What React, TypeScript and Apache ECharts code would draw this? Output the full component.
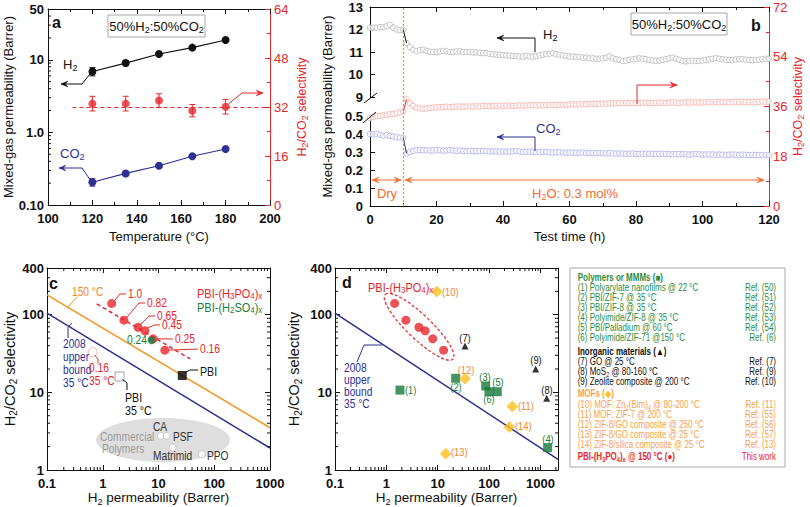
import React, { useEffect, useRef } from 'react';
import * as echarts from 'echarts';

const FONT = "'Liberation Sans', Arial, Helvetica, sans-serif";
const BLACK = '#111111';
const RED = '#e8262b';
const BLUE = '#2e3192';
const GREEN = '#1a7d3c';
const ORANGE = '#f7941d';
const ORANGE_T = '#f0882e';
const GOLD = '#fdc01c';
const DRY = '#f26b2e';
const MOFT = '#f4a34c';
const LGREEN = '#2e8b3e';

// ---------------- Panel a ----------------
const tempA = [120, 135, 150, 165, 180];
const h2PermA = [6.9, 9.0, 12.0, 14.7, 18.7];
const h2ErrA = [0.9, 0.7, 0.5, 0.5, 0.5];
const co2PermA = [0.206, 0.272, 0.347, 0.469, 0.59];
const co2ErrA = [0.024, 0.018, 0.012, 0.012, 0.012];
const selA = [33.1, 33.1, 34.1, 30.8, 32.1];
const selErrA = [2.4, 2.4, 2.2, 2.0, 2.4];
const selMeanA = 32;
const selMeanStartA = 111;

// ---------------- Panel b ----------------
const timeB = Array.from({ length: 121 }, (_, i) => i);
const h2PermB = [
  12.08, 12.08, 12.08, 12.1, 12.1, 12.15, 12.2, 12.08, 12.0, 11.97, 11.98,
  11.4, 11.22, 11.1, 11.05, 11.08, 11.1, 11.05, 11.02, 11.0, 11.0,
  11.02, 11.05, 11.03, 11.0, 11.0, 11.02, 11.03, 11.0, 11.0, 11.0,
  10.98, 10.98, 10.97, 10.95, 10.95, 10.92, 10.9, 10.88, 10.88, 10.86,
  10.85, 10.84, 10.82, 10.82, 10.8, 10.8, 10.82, 10.8, 10.8, 10.82,
  10.85, 10.88, 10.9, 10.92, 10.95, 10.9, 10.88, 10.85, 10.82, 10.8,
  10.8, 10.78, 10.78, 10.75, 10.75, 10.72, 10.72, 10.7, 10.7, 10.72,
  10.75, 10.8, 10.72, 10.68, 10.65, 10.6, 10.62, 10.65, 10.68, 10.7,
  10.72, 10.7, 10.68, 10.65, 10.62, 10.6, 10.62, 10.65, 10.68, 10.72,
  10.75, 10.7, 10.65, 10.6, 10.58, 10.6, 10.62, 10.6, 10.6, 10.62,
  10.65, 10.68, 10.7, 10.72, 10.7, 10.68, 10.66, 10.65, 10.65, 10.66,
  10.68, 10.68, 10.66, 10.65, 10.64, 10.65, 10.66, 10.68, 10.7, 10.7,
];
const co2PermB = [
  0.4, 0.398, 0.4, 0.396, 0.39, 0.394, 0.39, 0.386, 0.382, 0.38, 0.378,
  0.292, 0.3, 0.306, 0.31, 0.312, 0.31, 0.31, 0.308, 0.309, 0.31,
  0.31, 0.308, 0.309, 0.31, 0.308, 0.307, 0.308, 0.306, 0.305, 0.306,
  0.305, 0.304, 0.305, 0.306, 0.304, 0.303, 0.304, 0.303, 0.302, 0.303,
  0.302, 0.303, 0.304, 0.305, 0.302, 0.3, 0.301, 0.302, 0.3, 0.299,
  0.3, 0.301, 0.3, 0.298, 0.297, 0.298, 0.299, 0.297, 0.296, 0.297,
  0.296, 0.295, 0.296, 0.297, 0.295, 0.294, 0.293, 0.294, 0.295, 0.293,
  0.292, 0.293, 0.292, 0.291, 0.292, 0.291, 0.29, 0.291, 0.292, 0.29,
  0.289, 0.29, 0.291, 0.29, 0.289, 0.288, 0.289, 0.29, 0.289, 0.288,
  0.287, 0.288, 0.289, 0.288, 0.287, 0.286, 0.287, 0.288, 0.287, 0.286,
  0.286, 0.287, 0.286, 0.285, 0.286, 0.285, 0.284, 0.285, 0.286, 0.285,
  0.284, 0.285, 0.284, 0.283, 0.284, 0.283, 0.282, 0.283, 0.282, 0.282,
];
const selB = [
  31.8, 32.2, 32.5, 32.6, 32.8, 33.0, 33.2, 33.3, 33.6, 33.8, 34.2,
  38.6, 37.2, 36.2, 35.6, 35.3, 35.2, 35.3, 35.5, 35.6, 35.7,
  35.8, 35.8, 35.9, 35.8, 35.9, 36.0, 36.0, 35.9, 36.0, 36.0,
  36.0, 36.1, 36.0, 36.1, 36.2, 36.1, 36.2, 36.2, 36.3, 36.2,
  36.3, 36.3, 36.2, 36.3, 36.4, 36.3, 36.4, 36.4, 36.5, 36.4,
  36.5, 36.4, 36.5, 36.6, 36.5, 36.6, 36.6, 36.7, 36.6, 36.7,
  36.8, 36.7, 36.8, 36.9, 36.8, 36.9, 37.0, 36.9, 37.0, 37.1,
  37.0, 37.1, 37.2, 37.1, 37.2, 37.2, 37.3, 37.2, 37.3, 37.3,
  37.2, 37.3, 37.4, 37.3, 37.2, 37.3, 37.4, 37.4, 37.3, 37.4,
  37.5, 37.4, 37.3, 37.4, 37.5, 37.4, 37.5, 37.5, 37.4, 37.5,
  37.5, 37.6, 37.5, 37.6, 37.5, 37.6, 37.6, 37.5, 37.6, 37.7,
  37.6, 37.7, 37.6, 37.7, 37.7, 37.6, 37.7, 37.8, 37.7, 37.8,
];
const dryEndB = 10;

// ---------------- Panel c ----------------
const pbiPaX = [1.45, 2.4, 4.3, 5.7, 8.0, 13];
const pbiPaY = [140, 85, 69, 62, 49, 35];
const pbiPaLabels = ['1.0', '0.82', '0.65', '0.45', '0.25', '0.16'];
const pbiSaX = [7.5];
const pbiSaY = [47];
const pbi150X = [26.7];
const pbi150Y = [16.5];
const pbi35X = [2.0];
const pbi35Y = [16];
const pbiPa35X = [0.66];
const pbiPa35Y = [33];
const commercialNames = ['CA', 'PSF', 'Matrimid', 'PPO'];
const commercialX = [11, 14, 18, 60];
const commercialY = [2.75, 2.75, 1.95, 1.6];
const boundCX = [0.1, 1000];
const boundCY = [105, 1.92];
const bound150X = [0.1, 1000];
const bound150Y = [180, 3.5];
const trendPaX = [0.78, 37];
const trendPaY = [138, 27];

// ---------------- Panel d ----------------
const polymersX = [1.84, 22.4, 86, 1384, 144.5, 99.6];
const polymersY = [10.7, 15.2, 12.1, 1.94, 10.2, 10.2];
const inorganicX = [34, 1324, 809];
const inorganicY = [39.5, 8.4, 20];
const mofX = [9.55, 283, 34, 14.3, 248];
const mofY = [199, 6.6, 15.0, 1.62, 3.58];
const boundDX = [0.1, 2200];
const boundDY = [105, 1.37];
const dMaxX = 2200;

// ---------------- helpers ----------------
function richStr(s: string) {
  return s
    .split('#')
    .map((seg, k) => {
      if (k % 2 === 1) return seg ? `{i|${seg}}` : '';
      return seg
        .split('~')
        .map((p, i) => (p === '' ? '' : i % 2 ? `{s|${p}}` : `{n|${p}}`))
        .join('');
    })
    .join('');
}
function nameRich(color: string, size: number) {
  return {
    n: { fontSize: size, fontFamily: FONT, color, lineHeight: size + 3 },
    s: { fontSize: Math.round(size * 0.7), fontFamily: FONT, color, lineHeight: Math.round(size * 0.55), verticalAlign: 'bottom' },
  };
}
function axisBase(color = BLACK) {
  return {
    axisLine: { show: true, onZero: false, lineStyle: { color, width: 1 } },
    axisTick: { show: true, inside: true, length: 5, lineStyle: { color, width: 1 } },
    splitLine: { show: false },
  };
}
function lbl(color = BLACK, margin = 5, extra: any = {}) {
  return { show: true, color, fontSize: 13, fontWeight: 'bold', fontFamily: FONT, margin, ...extra };
}
const isPow10 = (v: number) => {
  const l = Math.log10(v);
  return Math.abs(l - Math.round(l)) < 1e-6;
};
const fmtPow = (v: number) => (isPow10(v) ? String(+Number(v).toPrecision(6)) : '');
const fmtA = (v: number) => {
  const m: [number, string][] = [[0.1, '0.10'], [1, '1.0'], [10, '10'], [50, '50']];
  for (const [k, s] of m) if (Math.abs(v / k - 1) < 1e-6) return s;
  return '';
};
const fmtSel = (v: number) => (isPow10(v) ? String(Math.round(v)) : Math.abs(v - 400) < 1e-6 ? '400' : '');

function logMinor(lo: number, hi: number) {
  const out: number[] = [];
  for (let e = Math.floor(Math.log10(lo)); e <= Math.ceil(Math.log10(hi)); e++) {
    for (let m = 2; m <= 9; m++) {
      const v = m * Math.pow(10, e);
      if (v > lo * 1.0001 && v < hi * 0.9999) out.push(v);
    }
  }
  return out;
}
function minorTickSeries(xi: number, yi: number, xr: number[], yr: number[], xm: number[], ym: number[], o: any) {
  return {
    type: 'custom', xAxisIndex: xi, yAxisIndex: yi, silent: true, z: 5,
    data: [[xr[0], yr[0]]],
    renderItem: (_p: any, api: any) => {
      const ch: any[] = [];
      const st = { stroke: o.color || BLACK, lineWidth: 1 };
      const L = 3;
      for (const v of xm) {
        const b = api.coord([v, yr[0]]);
        const t = api.coord([v, yr[1]]);
        if (o.bottom) ch.push({ type: 'line', shape: { x1: b[0], y1: b[1], x2: b[0], y2: b[1] - L }, style: st });
        if (o.top) ch.push({ type: 'line', shape: { x1: t[0], y1: t[1], x2: t[0], y2: t[1] + L }, style: st });
      }
      for (const v of ym) {
        const l = api.coord([xr[0], v]);
        const r = api.coord([xr[1], v]);
        if (o.left) ch.push({ type: 'line', shape: { x1: l[0], y1: l[1], x2: l[0] + L, y2: l[1] }, style: st });
        if (o.right) ch.push({ type: 'line', shape: { x1: r[0], y1: r[1], x2: r[0] - L, y2: r[1] }, style: st });
      }
      return { type: 'group', children: ch };
    },
  };
}
function errSeries(xi: number, yi: number, xs: number[], ys: number[], es: number[], color: string) {
  return {
    type: 'custom', xAxisIndex: xi, yAxisIndex: yi, z: 3, silent: true,
    data: xs.map((x, i) => [x, ys[i] - es[i], ys[i] + es[i]]),
    encode: { x: 0, y: [1, 2] },
    renderItem: (_p: any, api: any) => {
      const x = api.value(0);
      const a = api.coord([x, api.value(1)]);
      const b = api.coord([x, api.value(2)]);
      const w = 3;
      const st = { stroke: color, lineWidth: 1 };
      return {
        type: 'group',
        children: [
          { type: 'line', shape: { x1: a[0], y1: a[1], x2: b[0], y2: b[1] }, style: st },
          { type: 'line', shape: { x1: a[0] - w, y1: a[1], x2: a[0] + w, y2: a[1] }, style: st },
          { type: 'line', shape: { x1: b[0] - w, y1: b[1], x2: b[0] + w, y2: b[1] }, style: st },
        ],
      };
    },
  };
}
function T(x: number, y: number, text: string, o: any = {}) {
  const size = o.size ?? 12;
  const color = o.color ?? BLACK;
  const weight = o.bold ? 'bold' : 'normal';
  const ic = o.iconColor ?? color;
  const rich = {
    n: { fontSize: size, fontFamily: FONT, fontWeight: weight, fill: color, color, lineHeight: size + 3 },
    s: { fontSize: Math.round(size * 0.68), fontFamily: FONT, fontWeight: weight, fill: color, color, lineHeight: Math.round(size * 0.55), verticalAlign: 'bottom' },
    i: { fontSize: size, fontFamily: FONT, fill: ic, color: ic, lineHeight: size + 3 },
  };
  return {
    type: 'text', x, y, z: 60, silent: true, scaleX: o.sx ?? 1,
    style: {
      text: richStr(text), rich, fontSize: size, fontFamily: FONT, fontWeight: weight, fill: color,
      align: o.align ?? 'left', verticalAlign: 'middle', textAlign: o.align ?? 'left', textVerticalAlign: 'middle',
    },
  };
}
function PL(pts: number[][], color: string, w = 1, dash?: number[]) {
  return { type: 'polyline', z: 55, silent: true, shape: { points: pts }, style: { stroke: color, fill: 'none', lineWidth: w, lineDash: dash } };
}
function arrow(pts: number[][], color: string, both = false, w = 1) {
  const els: any[] = [PL(pts, color, w)];
  const head = (tip: number[], from: number[]) => {
    const dx = tip[0] - from[0];
    const dy = tip[1] - from[1];
    const L = Math.hypot(dx, dy) || 1;
    const ux = dx / L;
    const uy = dy / L;
    const hl = 7;
    const hw = 3;
    const bx = tip[0] - ux * hl;
    const by = tip[1] - uy * hl;
    const nx = tip[0] - ux * hl * 0.6;
    const ny = tip[1] - uy * hl * 0.6;
    return {
      type: 'polygon', z: 56, silent: true,
      shape: { points: [tip, [bx - uy * hw, by + ux * hw], [nx, ny], [bx + uy * hw, by - ux * hw]] },
      style: { fill: color, stroke: color, lineWidth: 0.5 },
    };
  };
  els.push(head(pts[pts.length - 1], pts[pts.length - 2]));
  if (both) els.push(head(pts[0], pts[1]));
  return els;
}
function box(x: number, y: number, w: number, h: number) {
  return { type: 'rect', z: 50, silent: true, shape: { x, y, width: w, height: h }, style: { fill: '#fff', stroke: '#a8a8a8', lineWidth: 1 } };
}

const legendRows = [
  { t: 'Polymers or MMMs (#■#)', c: LGREEN, b: true },
  { t: '(1) Polyarylate nanofilms @ 22 °C', r: 'Ref. (50)', c: LGREEN },
  { t: '(2) PBI/ZIF-7 @ 35 °C', r: 'Ref. (51)', c: LGREEN },
  { t: '(3) PBI/ZIF-8 @ 35 °C', r: 'Ref. (52)', c: LGREEN },
  { t: '(4) Polyimide/ZIF-8 @ 35 °C', r: 'Ref. (53)', c: LGREEN },
  { t: '(5) PBI/Palladium @ 60 °C', r: 'Ref. (54)', c: LGREEN },
  { t: '(6) Polyimide/ZIF-71 @150 °C', r: 'Ref. (6)', c: LGREEN },
  { t: 'Inorganic materials (#▲#)', c: BLACK, b: true },
  { t: '(7) GO @ 25 °C', r: 'Ref. (7)', c: BLACK },
  { t: '(8) MoS~2~ @ 80-160 °C', r: 'Ref. (9)', c: BLACK },
  { t: '(9) Zeolite composite @ 200 °C', r: 'Ref. (10)', c: BLACK },
  { t: 'MOFs (#◆#)', c: MOFT, b: true, ic: GOLD },
  { t: '(10) MOF: Zn~2~(Bim)~4~ @ 80-200 °C', r: 'Ref. (11)', c: MOFT },
  { t: '(11) MOF: ZIF-7 @ 200 °C', r: 'Ref. (55)', c: MOFT },
  { t: '(12) ZIF-8/GO composite @ 250 °C', r: 'Ref. (56)', c: MOFT },
  { t: '(13) ZIF-8/GO composite @ 25 °C', r: 'Ref. (57)', c: MOFT },
  { t: '(14) ZIF-8/silica composite @ 25 °C', r: 'Ref. (13)', c: MOFT },
  { t: 'PBI-(H~3~PO~4~)~x~ @ 150 °C (#●#)', r: 'This work', c: RED, b: true },
];
const legendY = [277.7, 287.7, 297.7, 307.7, 317.7, 327.7, 337.7, 351.7, 361.7, 371.7, 381.7, 393.3, 404.3, 414.3, 424.3, 434.3, 444.3, 456.7];

function buildOption() {
  const grids = [
    { left: 48, top: 9, width: 222, height: 196 },
    { left: 370, top: 7, width: 399, height: 90 },
    { left: 370, top: 116, width: 399, height: 90 },
    { left: 370, top: 7, width: 399, height: 199 },
    { left: 47, top: 268, width: 223, height: 202 },
    { left: 335, top: 268, width: 223, height: 202 },
  ].map((g) => ({ ...g, containLabel: false, outerBoundsMode: 'none', show: false }));

  const minorLin = { show: true, splitNumber: 2, length: 3, lineStyle: { color: BLACK, width: 1 } };

  const xAxis: any[] = [
    { ...axisBase(), gridIndex: 0, type: 'value', min: 100, max: 200, interval: 20, minorTick: minorLin, axisLabel: lbl(BLACK, 7),
      name: 'Temperature (°C)', nameLocation: 'middle', nameGap: 25, nameTextStyle: { fontSize: 13, fontFamily: FONT, color: BLACK } },
    { ...axisBase(), gridIndex: 0, type: 'value', position: 'top', min: 100, max: 200, interval: 20, minorTick: minorLin, axisLabel: { show: false } },
    { ...axisBase(), gridIndex: 1, type: 'value', position: 'top', min: 0, max: 120, interval: 20, minorTick: minorLin, axisLabel: { show: false } },
    { ...axisBase(), gridIndex: 2, type: 'value', min: 0, max: 120, interval: 20, minorTick: minorLin, axisLabel: lbl(BLACK, 7),
      name: 'Test time (h)', nameLocation: 'middle', nameGap: 24, nameTextStyle: { fontSize: 13, fontFamily: FONT, color: BLACK } },
    { gridIndex: 3, type: 'value', min: 0, max: 120, show: false },
    { ...axisBase(), gridIndex: 4, type: 'log', min: 0.1, max: 1000, axisLabel: lbl(BLACK, 7, { formatter: fmtPow }),
      name: richStr('H~2~ permeability (Barrer)'), nameLocation: 'middle', nameGap: 19, nameTextStyle: { rich: nameRich(BLACK, 13.5) } },
    { ...axisBase(), gridIndex: 4, type: 'log', position: 'top', min: 0.1, max: 1000, axisLabel: { show: false } },
    { ...axisBase(), gridIndex: 5, type: 'log', min: 0.1, max: dMaxX, axisLabel: lbl(BLACK, 7, { formatter: fmtPow }),
      name: richStr('H~2~ permeability (Barrer)'), nameLocation: 'middle', nameGap: 19, nameTextStyle: { rich: nameRich(BLACK, 13.5) } },
    { ...axisBase(), gridIndex: 5, type: 'log', position: 'top', min: 0.1, max: dMaxX, axisLabel: { show: false } },
  ];

  const yAxis: any[] = [
    { ...axisBase(), gridIndex: 0, type: 'log', min: 0.1, max: 50, axisLabel: lbl(BLACK, 4, { formatter: fmtA }),
      name: 'Mixed-gas permeability (Barrer)', nameLocation: 'middle', nameGap: 29, nameTextStyle: { fontSize: 13, fontFamily: FONT, color: BLACK } },
    { ...axisBase(RED), gridIndex: 0, type: 'value', position: 'right', min: 0, max: 64, interval: 16,
      minorTick: { ...minorLin, lineStyle: { color: RED } }, axisLabel: lbl(RED, 4, { fontWeight: 'normal' }),
      name: richStr('H~2~/CO~2~ selectivity'), nameLocation: 'middle', nameGap: 24, nameTextStyle: { rich: nameRich(RED, 12.5) } },
    { ...axisBase(), gridIndex: 1, type: 'value', min: 9, max: 13, interval: 1, axisLabel: lbl(BLACK, 7) },
    { ...axisBase(), gridIndex: 2, type: 'value', min: 0, max: 0.5, interval: 0.1, axisLabel: lbl(BLACK, 7) },
    { ...axisBase(RED), gridIndex: 3, type: 'value', position: 'right', min: 0, max: 72, interval: 18,
      minorTick: { ...minorLin, lineStyle: { color: RED } }, axisLabel: lbl(RED, 4, { fontWeight: 'normal' }),
      name: richStr('H~2~/CO~2~ selectivity'), nameLocation: 'middle', nameGap: 20, nameTextStyle: { rich: nameRich(RED, 12.5) } },
    { gridIndex: 3, type: 'value', position: 'left', min: 0, max: 1, axisLine: { show: false }, axisTick: { show: false }, axisLabel: { show: false }, splitLine: { show: false },
      name: 'Mixed-gas permeability (Barrer)', nameLocation: 'middle', nameGap: 36, nameTextStyle: { fontSize: 13, fontFamily: FONT, color: BLACK } },
    { ...axisBase(), gridIndex: 4, type: 'log', min: 1, max: 400, axisLabel: lbl(BLACK, 3, { formatter: fmtSel }),
      name: richStr('H~2~/CO~2~ selectivity'), nameLocation: 'middle', nameGap: 15, nameTextStyle: { rich: nameRich(BLACK, 14.5) } },
    { ...axisBase(), gridIndex: 4, type: 'log', position: 'right', min: 1, max: 400, axisLabel: { show: false } },
    { ...axisBase(), gridIndex: 5, type: 'log', min: 1, max: 400, axisLabel: lbl(BLACK, 3, { formatter: fmtSel }),
      name: richStr('H~2~/CO~2~ selectivity'), nameLocation: 'middle', nameGap: 32, nameTextStyle: { rich: nameRich(BLACK, 14.5) } },
    { ...axisBase(), gridIndex: 5, type: 'log', position: 'right', min: 1, max: 400, axisLabel: { show: false } },
  ];

  const zip = (xs: number[], ys: number[]) => xs.map((x, i) => [x, ys[i]]);
  const hollow = (stroke: string) => ({ color: '#fff', borderColor: stroke, borderWidth: 1 });

  const series: any[] = [
    // ---- a ----
    errSeries(0, 0, tempA, h2PermA, h2ErrA, BLACK),
    errSeries(0, 0, tempA, co2PermA, co2ErrA, BLUE),
    errSeries(0, 1, tempA, selA, selErrA, RED),
    { type: 'line', xAxisIndex: 0, yAxisIndex: 0, data: zip(tempA, h2PermA), symbol: 'circle', symbolSize: 8, z: 4,
      lineStyle: { color: BLACK, width: 1.2 }, itemStyle: { color: BLACK } },
    { type: 'line', xAxisIndex: 0, yAxisIndex: 0, data: zip(tempA, co2PermA), symbol: 'circle', symbolSize: 8, z: 4,
      lineStyle: { color: BLUE, width: 1.2 }, itemStyle: { color: BLUE } },
    { type: 'scatter', xAxisIndex: 0, yAxisIndex: 1, data: zip(tempA, selA), symbol: 'circle', symbolSize: 8, z: 4, itemStyle: { color: RED },
      markLine: { silent: true, symbol: ['none', 'none'], label: { show: false }, lineStyle: { color: RED, type: [4, 3], width: 1.2 },
        data: [[{ coord: [selMeanStartA, selMeanA] }, { coord: [200, selMeanA] }]] } },
    minorTickSeries(0, 0, [100, 200], [0.1, 50], [], logMinor(0.1, 50), { left: true }),
    // ---- b ----
    { type: 'scatter', xAxisIndex: 2, yAxisIndex: 2, data: zip(timeB, h2PermB), symbol: 'circle', symbolSize: 5.5, z: 3, itemStyle: hollow('#b4b4b4') },
    { type: 'scatter', xAxisIndex: 3, yAxisIndex: 3, data: zip(timeB, co2PermB), symbol: 'circle', symbolSize: 5.5, z: 3, itemStyle: hollow('#a9a9e4') },
    { type: 'scatter', xAxisIndex: 4, yAxisIndex: 4, data: zip(timeB, selB), symbol: 'circle', symbolSize: 5.5, z: 3, itemStyle: hollow('#f4a7a2'),
      markLine: { silent: true, symbol: ['none', 'none'], label: { show: false }, lineStyle: { color: '#f5893a', type: [2, 2], width: 1.2 },
        data: [{ xAxis: dryEndB }] } },
    { type: 'line', xAxisIndex: 2, yAxisIndex: 2, data: [[timeB[10], h2PermB[10]], [timeB[11], h2PermB[11]]], symbol: 'none', z: 4, lineStyle: { color: BLACK, width: 1 } },
    { type: 'line', xAxisIndex: 3, yAxisIndex: 3, data: [[timeB[10], co2PermB[10]], [timeB[11], co2PermB[11]]], symbol: 'none', z: 4, lineStyle: { color: BLUE, width: 1 } },
    { type: 'line', xAxisIndex: 4, yAxisIndex: 4, data: [[timeB[10], selB[10]], [timeB[11], selB[11]]], symbol: 'none', z: 4, lineStyle: { color: RED, width: 1 } },
    // ---- c ----
    { type: 'line', xAxisIndex: 5, yAxisIndex: 6, data: zip(bound150X, bound150Y), symbol: 'none', z: 2, lineStyle: { color: ORANGE, width: 1.5 } },
    { type: 'line', xAxisIndex: 5, yAxisIndex: 6, data: zip(boundCX, boundCY), symbol: 'none', z: 2, lineStyle: { color: BLUE, width: 1.5 } },
    { type: 'line', xAxisIndex: 5, yAxisIndex: 6, data: zip(trendPaX, trendPaY), symbol: 'none', z: 2, lineStyle: { color: RED, width: 1.5, type: [4, 3] } },
    { type: 'scatter', xAxisIndex: 5, yAxisIndex: 6, data: zip(commercialX, commercialY), symbol: 'circle', symbolSize: 7, z: 3, itemStyle: hollow('#c4c4c4') },
    { type: 'scatter', xAxisIndex: 5, yAxisIndex: 6, data: zip(pbiPaX, pbiPaY), symbol: 'circle', symbolSize: 9, z: 4, itemStyle: { color: RED } },
    { type: 'scatter', xAxisIndex: 5, yAxisIndex: 6, data: zip(pbiSaX, pbiSaY), symbol: 'circle', symbolSize: 8, z: 4, itemStyle: { color: GREEN } },
    { type: 'scatter', xAxisIndex: 5, yAxisIndex: 6, data: zip(pbi150X, pbi150Y), symbol: 'rect', symbolSize: 9, z: 4, itemStyle: { color: '#000' } },
    { type: 'scatter', xAxisIndex: 5, yAxisIndex: 6, data: zip(pbi35X, pbi35Y), symbol: 'rect', symbolSize: 9, z: 4, itemStyle: hollow('#8c8c8c') },
    { type: 'scatter', xAxisIndex: 5, yAxisIndex: 6, data: zip(pbiPa35X, pbiPa35Y), symbol: 'circle', symbolSize: 9, z: 4, itemStyle: hollow('#f0a0a0') },
    minorTickSeries(5, 6, [0.1, 1000], [1, 400], logMinor(0.1, 1000), logMinor(1, 400), { left: true, right: true, top: true, bottom: true }),
    // ---- d ----
    { type: 'line', xAxisIndex: 7, yAxisIndex: 8, data: zip(boundDX, boundDY), symbol: 'none', z: 2, lineStyle: { color: BLUE, width: 1.5 } },
    { type: 'scatter', xAxisIndex: 7, yAxisIndex: 8, data: zip(pbiPaX, pbiPaY), symbol: 'circle', symbolSize: 9, z: 4, itemStyle: { color: RED } },
    { type: 'scatter', xAxisIndex: 7, yAxisIndex: 8, data: zip(polymersX, polymersY), symbol: 'rect', symbolSize: 9, z: 4, itemStyle: { color: '#15783a' } },
    { type: 'scatter', xAxisIndex: 7, yAxisIndex: 8, data: zip(inorganicX, inorganicY), symbol: 'triangle', symbolSize: 7, z: 4, itemStyle: { color: '#000' } },
    { type: 'scatter', xAxisIndex: 7, yAxisIndex: 8, data: zip(mofX, mofY), symbol: 'diamond', symbolSize: 11, z: 4, itemStyle: { color: GOLD, borderColor: '#f8b020', borderWidth: 0.5 } },
    minorTickSeries(7, 8, [0.1, dMaxX], [1, 400], logMinor(0.1, dMaxX), logMinor(1, 400), { left: true, right: true, top: true, bottom: true }),
  ];

  return { animation: false, backgroundColor: '#fff', grid: grids, xAxis, yAxis, series };
}

function buildGraphic(cv: (xi: number, yi: number, p: number[]) => number[]) {
  const g: any[] = [];
  const push = (e: any) => (Array.isArray(e) ? g.push(...e) : g.push(e));
  // ---- a ----
  push(T(52, 22, 'a', { size: 16, bold: true }));
  push(box(108, 15, 97, 22));
  push(T(156.5, 26, '50%H~2~:50%CO~2~', { size: 13, align: 'center' }));
  const pa = cv(0, 0, [tempA[0], h2PermA[0]]);
  push(T(63, 64, 'H~2~', { size: 13 }));
  push(arrow([[pa[0] - 2, pa[1] + 2], [82, 84], [61, 84]], BLACK));
  const pc = cv(0, 0, [tempA[0], co2PermA[0]]);
  push(T(60, 153, 'CO~2~', { size: 13, color: BLUE }));
  push(arrow([[pc[0] - 2, pc[1] - 2], [82, 168], [59, 168]], BLUE));
  const ps = cv(0, 1, [tempA[4], selA[4]]);
  push(arrow([[ps[0] + 3, ps[1] - 3], [242, 93], [263, 93]], RED));
  // ---- b ----
  push(T(751, 25, 'b', { size: 16, bold: true }));
  push(box(631, 13, 96, 22));
  push(T(679, 24, '50%H~2~:50%CO~2~', { size: 13, align: 'center' }));
  push(T(543, 34, 'H~2~', { size: 13 }));
  push(arrow([[535, 52], [535, 38], [497, 38]], BLACK));
  push(T(536, 128, 'CO~2~', { size: 13, color: BLUE }));
  push(arrow([[535, 151], [535, 137], [497, 137]], BLUE));
  push(arrow([[637, 104], [637, 85], [677, 85]], RED));
  push(arrow([[372, 180], [401, 180]], DRY, true));
  push(arrow([[405, 180], [764, 180]], DRY, true));
  push(T(387, 193, 'Dry', { size: 13, color: DRY, align: 'center' }));
  push(T(575, 193, 'H~2~O: 0.3 mol%', { size: 13, color: DRY, align: 'center' }));
  push(PL([[364, 103], [377, 93]], BLACK, 1));
  push(PL([[363, 123], [376, 112]], BLACK, 1));
  // ---- c ----
  push(T(49, 283, 'c', { size: 16, bold: true }));
  push(T(72, 292, '150 °C', { size: 12, color: ORANGE_T, sx: 0.85 }));
  push(PL([[77, 297], [68, 307]], ORANGE));
  ['2008', 'upper', 'bound', '35 °C'].forEach((s, i) => push(T(63, 344 + i * 13, s, { size: 12, color: BLUE, sx: 0.85 })));
  push(PL([[68, 338], [68, 327], [72, 323]], BLUE));
  push(T(197, 293, 'PBI-(H~3~PO~4~)~x~', { size: 12.5, color: RED, sx: 0.88 }));
  push(T(197, 307, 'PBI-(H~2~SO~4~)~x~', { size: 12.5, color: GREEN, sx: 0.88 }));
  const labelPos = [[128, 294], [147, 303], [157, 316], [162, 325], [175, 339], [200, 349]];
  pbiPaLabels.forEach((s, i) => {
    const p = cv(5, 6, [pbiPaX[i], pbiPaY[i]]);
    const [lx, ly] = labelPos[i];
    push(T(lx, ly, s, { size: 12.5, color: RED, sx: 0.82 }));
    if (i < 4) push(PL([[p[0] + 3, p[1] - 3], [lx - 8, ly], [lx - 2, ly]], RED));
    else push(PL([[p[0] + 4, p[1]], [lx - 2, ly]], RED));
  });
  push(T(127, 340, '0.24', { size: 12.5, color: GREEN, sx: 0.82 }));
  push(T(89, 368, '0.16', { size: 12.5, color: RED, sx: 0.82 }));
  push(T(89, 381, '35 °C', { size: 12.5, color: RED, sx: 0.82 }));
  const p35 = cv(5, 6, [pbiPa35X[0], pbiPa35Y[0]]);
  push(PL([[p35[0] + 2, p35[1] + 3], [98, 359], [98, 363]], RED));
  push(T(125, 397, 'PBI', { size: 12.5, sx: 0.85 }));
  push(T(125, 410, '35 °C', { size: 12.5, sx: 0.85 }));
  const pq = cv(5, 6, [pbi35X[0], pbi35Y[0]]);
  push(PL([[pq[0] + 3, pq[1] + 3], [127, 383], [127, 390]], BLACK));
  const pp = cv(5, 6, [pbi150X[0], pbi150Y[0]]);
  push(T(200, 371, 'PBI', { size: 12.5, sx: 0.85 }));
  push(PL([[pp[0] + 3, pp[1] - 3], [190, 370], [198, 370]], BLACK));
  g.push({ type: 'ellipse', z: 1, silent: true, shape: { cx: 163, cy: 440, rx: 67, ry: 22 }, style: { fill: '#dedede' } });
  push(T(100, 437, 'Commercial', { size: 12, color: '#9a9a9a', sx: 0.85 }));
  push(T(102, 449, 'Polymers', { size: 12, color: '#9a9a9a', sx: 0.85 }));
  const comPos = [[153, 427], [173, 437], [153, 456], [207, 456]];
  commercialNames.forEach((s, i) => push(T(comPos[i][0], comPos[i][1], s, { size: 12, color: '#333', sx: 0.85 })));
  // ---- d ----
  push(T(342, 282, 'd', { size: 16, bold: true }));
  push(T(368, 287, 'PBI-(H~3~PO~4~)~x~', { size: 12.5, color: RED, sx: 0.88 }));
  const d0 = cv(7, 8, [pbiPaX[0], pbiPaY[0]]);
  const d5 = cv(7, 8, [pbiPaX[5], pbiPaY[5]]);
  const ang = Math.atan2(d5[1] - d0[1], d5[0] - d0[0]);
  const half = Math.hypot(d5[0] - d0[0], d5[1] - d0[1]) / 2;
  g.push({ type: 'ellipse', z: 2, silent: true, x: (d0[0] + d5[0]) / 2, y: (d0[1] + d5[1]) / 2, rotation: -ang,
    shape: { cx: 0, cy: 0, rx: half + 13, ry: 12 }, style: { fill: 'none', stroke: RED, lineWidth: 1.2, lineDash: [3, 2] } });
  ['2008', 'upper', 'bound', '35 °C'].forEach((s, i) => push(T(344, 368 + i * 12, s, { size: 12, color: BLUE, sx: 0.85 })));
  push(PL([[357, 362], [364, 345], [382, 345]], BLUE));
  const dl: [number, number, string, string, string][] = [
    [442, 292, '(10)', ORANGE_T, 'left'], [465, 338, '(7)', BLACK, 'center'], [536, 360, '(9)', BLACK, 'center'],
    [547, 390, '(8)', BLACK, 'center'], [548, 439, '(4)', GREEN, 'center'], [405, 390, '(1)', GREEN, 'left'],
    [456, 387, '(2)', GREEN, 'center'], [466, 370, '(12)', ORANGE_T, 'center'], [485, 377, '(3)', GREEN, 'center'],
    [489, 399, '(6)', GREEN, 'center'], [498, 382, '(5)', GREEN, 'center'], [518, 406, '(11)', ORANGE_T, 'left'],
    [515, 426, '(14)', ORANGE_T, 'left'], [451, 452, '(13)', ORANGE_T, 'left'],
  ];
  dl.forEach(([x, y, s, c, a]) => push(T(x, y, s, { size: 11, color: c, align: a, sx: 0.85 })));
  // ---- legend box ----
  push(box(570, 268, 215, 199));
  legendRows.forEach((row: any, i) => {
    push(T(577.7, legendY[i], row.t, { size: 10, color: row.c, bold: row.b, sx: 0.8, iconColor: row.ic }));
    if (row.r) push(T(776, legendY[i], row.r, { size: 10, color: row.c, sx: 0.8, align: 'right' }));
  });
  return g;
}

export default function App() {
  const ref = useRef<HTMLDivElement>(null);
  useEffect(() => {
    const chart = echarts.init(ref.current as HTMLDivElement, null, { renderer: 'svg' });
    chart.setOption(buildOption() as any);
    const cv = (xi: number, yi: number, p: number[]) => chart.convertToPixel({ xAxisIndex: xi, yAxisIndex: yi } as any, p) as unknown as number[];
    chart.setOption({ graphic: { elements: buildGraphic(cv) } } as any);
    return () => chart.dispose();
  }, []);
  return <div ref={ref} style={{ position: 'fixed', left: 0, top: 0, width: 810, height: 507, background: '#fff' }} />;
}
